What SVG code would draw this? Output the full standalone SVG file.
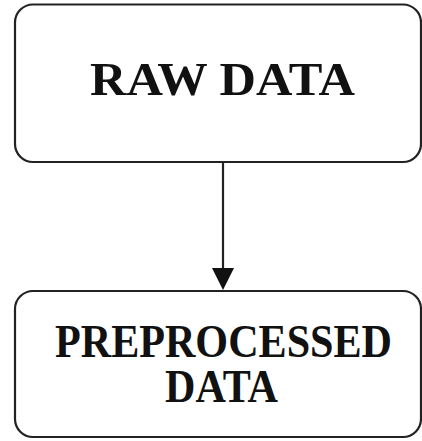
<svg xmlns="http://www.w3.org/2000/svg" width="422" height="441" viewBox="0 0 422 441">
<style>
.box{fill:#fff;stroke:#222;stroke-width:2.2}
.lbl{font-family:"Liberation Serif","Times New Roman",serif;font-weight:bold;font-size:46px;fill:#111}
.conn{stroke:#222;stroke-width:2.2;fill:none}
</style>
<rect width="422" height="441" fill="#fff"/>
<g id="connectors">
<line class="conn" x1="223" y1="162" x2="223" y2="270"/>
<path d="M212,268 L234,268 L223,290 Z" fill="#111"/>
</g>
<g id="raw-data">
<rect class="box" x="15" y="4.5" width="406" height="157.5" rx="18" ry="18"/>
<text class="lbl" x="90" y="95" textLength="265" lengthAdjust="spacingAndGlyphs">RAW DATA</text>
</g>
<g id="preprocessed-data">
<rect class="box" x="15" y="291" width="406" height="146" rx="18" ry="18"/>
<text class="lbl" x="55" y="357" textLength="337" lengthAdjust="spacingAndGlyphs">PREPROCESSED</text>
<text class="lbl" x="165" y="402" textLength="113" lengthAdjust="spacingAndGlyphs">DATA</text>
</g>
</svg>
